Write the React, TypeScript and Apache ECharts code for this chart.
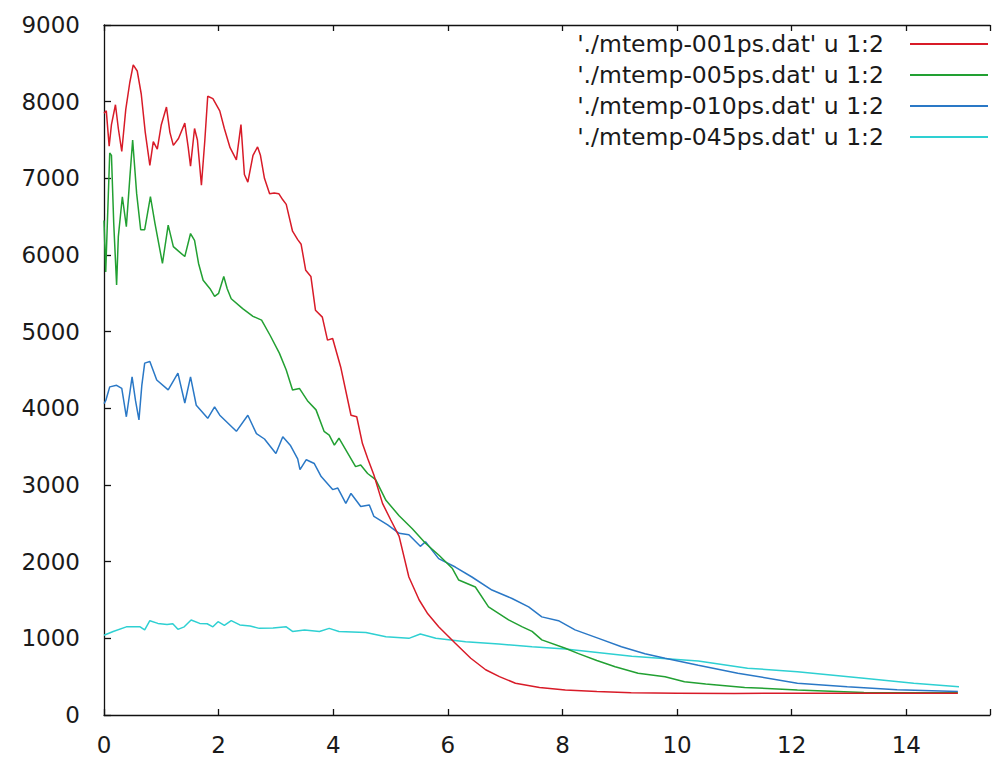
import React, { useEffect, useRef } from "react";
import * as echarts from "echarts";

const seriesNames = [
  "'./mtemp-001ps.dat' u 1:2",
  "'./mtemp-005ps.dat' u 1:2",
  "'./mtemp-010ps.dat' u 1:2",
  "'./mtemp-045ps.dat' u 1:2",
];
const seriesColors = ["#d81b28", "#22a032", "#2a78c6", "#2ed0d2"];

const xTicks = [0, 2, 4, 6, 8, 10, 12, 14];
const yTicks = [0, 1000, 2000, 3000, 4000, 5000, 6000, 7000, 8000, 9000];

// red: mtemp-001ps
const redX = [0, 0.04, 0.09, 0.13, 0.2, 0.25, 0.31, 0.38, 0.45, 0.51, 0.58, 0.65, 0.72, 0.8, 0.86, 0.93, 1.0, 1.09, 1.15, 1.21, 1.3, 1.41, 1.47, 1.51, 1.58, 1.63, 1.7, 1.76, 1.81, 1.9, 2.02, 2.1, 2.2, 2.31, 2.39, 2.45, 2.51, 2.6, 2.68, 2.73, 2.8, 2.89, 2.97, 3.05, 3.12, 3.18, 3.29, 3.38, 3.44, 3.52, 3.61, 3.69, 3.81, 3.9, 3.99, 4.13, 4.31, 4.41, 4.51, 4.6, 4.71, 4.86, 5.0, 5.15, 5.32, 5.5, 5.65, 5.84, 6.13, 6.4, 6.66, 6.9, 7.18, 7.6, 8.05, 8.6, 9.2, 10.0, 11.0, 12.0, 13.0, 14.0, 14.9];
const redY = [7850, 7880, 7420, 7700, 7960, 7650, 7350, 7900, 8250, 8480, 8400, 8100, 7600, 7170, 7480, 7380, 7700, 7930, 7600, 7430, 7520, 7720, 7400, 7160, 7650, 7500, 6910, 7500, 8070, 8040, 7880, 7650, 7400, 7240, 7700, 7050, 6950, 7300, 7410, 7300, 7000, 6800, 6810, 6800, 6720, 6660, 6310, 6200, 6140, 5800, 5720, 5280, 5190, 4890, 4910, 4540, 3910, 3890, 3540, 3350, 3130, 2760, 2550, 2330, 1800, 1500, 1320, 1150, 935, 740, 590, 500, 415, 360, 325, 305, 290, 285, 280, 285, 285, 285, 285];

// green: mtemp-005ps
const greenX = [0, 0.03, 0.1, 0.13, 0.17, 0.22, 0.25, 0.32, 0.39, 0.45, 0.5, 0.57, 0.64, 0.71, 0.81, 0.89, 1.02, 1.12, 1.21, 1.3, 1.41, 1.51, 1.58, 1.65, 1.73, 1.85, 1.93, 2.0, 2.09, 2.15, 2.22, 2.42, 2.6, 2.75, 2.9, 3.06, 3.18, 3.29, 3.41, 3.55, 3.7, 3.84, 3.93, 4.02, 4.1, 4.25, 4.39, 4.48, 4.6, 4.74, 4.92, 5.15, 5.38, 5.61, 5.85, 6.08, 6.19, 6.48, 6.71, 7.06, 7.3, 7.47, 7.64, 8.05, 8.28, 8.6, 8.92, 9.32, 9.79, 10.13, 10.5, 11.18, 12.1, 13.26, 14.0, 14.9];
const greenY = [6450, 5780, 7330, 7300, 6410, 5610, 6240, 6760, 6370, 7000, 7500, 6800, 6330, 6330, 6760, 6410, 5890, 6390, 6110, 6050, 5980, 6280, 6190, 5890, 5670, 5560, 5460, 5500, 5720, 5560, 5430, 5300, 5200, 5150, 4950, 4720, 4500, 4240, 4260, 4100, 3980, 3700, 3650, 3520, 3610, 3420, 3240, 3260, 3150, 3070, 2800, 2600, 2430, 2240, 2080, 1910, 1760, 1670, 1410, 1240, 1150, 1090, 980, 870, 800, 710, 630, 545, 500, 435, 405, 360, 326, 295, 290, 290];

// blue: mtemp-010ps
const blueX = [0, 0.03, 0.1, 0.22, 0.31, 0.39, 0.45, 0.49, 0.55, 0.61, 0.66, 0.71, 0.8, 0.92, 1.12, 1.29, 1.41, 1.51, 1.61, 1.81, 1.93, 2.02, 2.31, 2.51, 2.66, 2.8, 3.0, 3.12, 3.25, 3.38, 3.42, 3.53, 3.67, 3.79, 3.99, 4.08, 4.22, 4.31, 4.48, 4.63, 4.71, 4.95, 5.15, 5.32, 5.52, 5.61, 5.84, 6.13, 6.42, 6.77, 7.12, 7.41, 7.64, 7.93, 8.22, 8.63, 9.03, 9.44, 9.79, 10.37, 11.06, 12.1, 12.97, 13.84, 14.9];
const blueY = [4060, 4100, 4280, 4300, 4260, 3890, 4200, 4410, 4100, 3850, 4300, 4590, 4610, 4370, 4240, 4460, 4070, 4410, 4040, 3870, 4020, 3910, 3700, 3910, 3670, 3600, 3410, 3630, 3520, 3340, 3200, 3330, 3280, 3110, 2940, 2960, 2760, 2890, 2720, 2740, 2590, 2480, 2370, 2350, 2200, 2260, 2040, 1930, 1800, 1630, 1520, 1410, 1280, 1230, 1110, 1000, 890, 800, 740, 650, 545, 415, 370, 330, 305];

// cyan: mtemp-045ps
const cyanX = [0, 0.16, 0.39, 0.63, 0.71, 0.8, 0.94, 1.1, 1.2, 1.29, 1.4, 1.52, 1.67, 1.8, 1.9, 1.99, 2.1, 2.22, 2.37, 2.55, 2.71, 2.95, 3.18, 3.29, 3.5, 3.76, 3.93, 4.1, 4.57, 4.92, 5.32, 5.52, 5.79, 6.31, 6.89, 7.47, 8.05, 9.21, 10.37, 11.23, 12.1, 13.26, 14.13, 14.92];
const cyanY = [1040, 1090, 1150, 1150, 1110, 1230, 1195, 1180, 1190, 1117, 1150, 1240, 1195, 1190, 1150, 1217, 1170, 1230, 1175, 1160, 1130, 1135, 1150, 1090, 1110, 1090, 1130, 1090, 1075, 1022, 1000, 1057, 1000, 957, 925, 891, 860, 765, 705, 610, 565, 480, 413, 370];

const allX = [redX, greenX, blueX, cyanX];
const allY = [redY, greenY, blueY, cyanY];

const FONT = "DejaVu Sans";

export default function App() {
  const ref = useRef<HTMLDivElement>(null);
  useEffect(() => {
    if (!ref.current) return;
    const chart = echarts.init(ref.current, undefined, { renderer: "svg" });
    const xMax = (993 - 104) / 57.5;
    const axisCommon = {
      type: "value" as const,
      min: 0,
      max: xMax,
      interval: 2,
      splitLine: { show: false },
      axisLine: { show: true, onZero: false, lineStyle: { color: "#111", width: 1.3 } },
      axisTick: { show: true, inside: true, length: 6, lineStyle: { color: "#111", width: 1.3 } },
    };
    chart.setOption({
      animation: false,
      backgroundColor: "#ffffff",
      grid: { left: 104, top: 25, right: 0, bottom: 43, containLabel: false },
      legend: {
        orient: "vertical",
        right: 0,
        top: 27,
        align: "right",
        icon: "rect",
        itemWidth: 78,
        itemHeight: 2,
        itemGap: 7,
        data: seriesNames,
        selectedMode: false,
        textStyle: {
          fontFamily: FONT,
          fontSize: 23.5,
          color: "#1a1a1a",
          lineHeight: 24,
          padding: [0, 21, 0, 0],
        },
      },
      xAxis: [
        {
          ...axisCommon,
          position: "bottom",
          axisLabel: {
            show: true,
            fontFamily: FONT,
            fontSize: 23,
            color: "#1a1a1a",
            margin: 18,
            formatter: (v: number) => (xTicks.includes(v) ? String(v) : ""),
          },
        },
        {
          ...axisCommon,
          position: "top",
          axisLabel: { show: false },
        },
      ],
      yAxis: {
        type: "value",
        min: 0,
        max: 9000,
        interval: 1000,
        splitLine: { show: false },
        axisLine: { show: true, onZero: false, lineStyle: { color: "#111", width: 1.3 } },
        axisTick: { show: true, inside: true, length: 7, lineStyle: { color: "#111", width: 1.3 } },
        axisLabel: {
          fontFamily: FONT,
          fontSize: 23,
          color: "#1a1a1a",
          margin: 24,
          formatter: (v: number) => (yTicks.includes(v) ? String(v) : ""),
        },
      },
      series: seriesNames.map((name, i) => ({
        name,
        type: "line",
        xAxisIndex: 0,
        showSymbol: false,
        symbol: "none",
        data: allX[i].map((x, j) => [x, allY[i][j]]),
        lineStyle: { color: seriesColors[i], width: 1.5 },
        itemStyle: { color: seriesColors[i] },
        z: 10 - i,
      })),
    });
    return () => chart.dispose();
  }, []);
  return (
    <div
      ref={ref}
      style={{ position: "absolute", left: 0, top: 0, width: 993, height: 758, background: "#fff" }}
    />
  );
}
